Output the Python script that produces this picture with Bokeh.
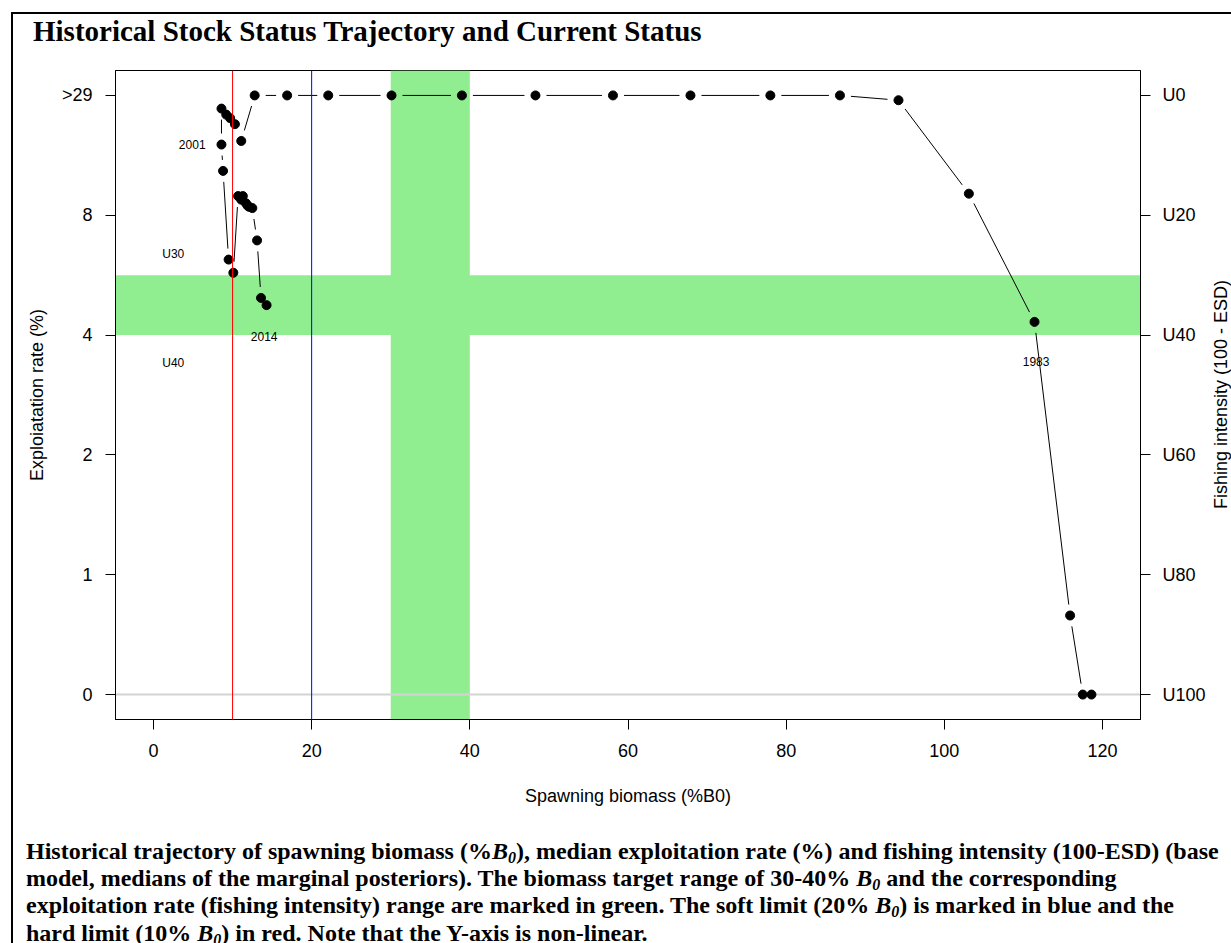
import math

from bokeh.embed import file_html
from bokeh.layouts import column, row
from bokeh.models import (BoxAnnotation, ColumnDataSource, Div, FixedTicker, Label,
                          LinearAxis, Range1d, Spacer, Span)
from bokeh.plotting import figure
from bokeh.resources import INLINE

# ---- data ---------------------------------------------------------------
years = list(range(1980, 2015))
spawning_biomass = [118.6, 117.5, 115.9, 111.4, 103.1, 94.2, 86.8, 78.0, 67.9,
                    58.1, 48.3, 39.0, 30.1, 22.1, 16.9, 12.8, 11.1, 10.3, 9.7,
                    9.2, 8.6, 8.6, 8.8, 9.5, 10.1, 10.7, 11.1, 11.3, 11.7,
                    11.9, 12.1, 12.5, 13.1, 13.6, 14.3]
fishing_intensity = [100, 100, 86.8, 37.8, 16.4, 0.8, 0, 0, 0, 0,
                     0, 0, 0, 0, 0, 0, 7.6, 4.8, 3.8, 3.2,
                     2.2, 8.2, 12.6, 27.4, 29.6, 16.8, 17.4, 16.8, 18.0, 18.4,
                     18.6, 18.8, 24.2, 33.8, 35.0]

exploitation_tick_labels = ["0", "1", "2", "4", "8", ">29"]
intensity_tick_labels = ["U100", "U80", "U60", "U40", "U20", "U0"]
biomass_ticks = [0, 20, 40, 60, 80, 100, 120]

biomass_target = (30, 40)       # %B0
intensity_target = (30, 40)     # U30 - U40
soft_limit = 20                 # %B0
hard_limit = 10                 # %B0

labelled_years = {2001: "2001", 1983: "1983", 2014: "2014"}

TITLE = "Historical Stock Status Trajectory and Current Status"
RIGHT_AXIS_TITLE = "Fishing intensity (100 - ESD)"
B0 = ('<i>B<sub style="font-size:16px;vertical-align:-4px;'
      'line-height:0">0</sub></i>')
CAPTION_LINES = [
    "Historical trajectory of spawning biomass (%" + B0 + "), median exploitation "
    "rate (%) and fishing intensity (100-ESD) (base",
    "model, medians of the marginal posteriors). The biomass target range of "
    "30-40% " + B0 + " and the corresponding",
    "exploitation rate (fishing intensity) range are marked in green. The soft "
    "limit (20% " + B0 + ") is marked in blue and the",
    "hard limit (10% " + B0 + ") in red. Note that the Y-axis is non-linear.",
]


def ypos(u):
    """Vertical position on the non-linear scale (U100 at 0, U0 at 5)."""
    return (100.0 - u) / 20.0


# ---- figure geometry -----------------------------------------------------
PW, PH = 1196, 776
LEFT, RIGHT, TOP, BOTTOM = 102, 69, 10, 117
X0, X1 = -4.8, 124.8
Y0, Y1 = -0.208, 5.208

p = figure(width=PW, height=PH, output_backend="svg", toolbar_location=None,
           x_range=Range1d(X0, X1), y_range=Range1d(Y0, Y1),
           min_border_left=LEFT, min_border_right=RIGHT,
           min_border_top=TOP, min_border_bottom=BOTTOM, margin=0)
p.grid.visible = False
p.outline_line_color = "black"
p.outline_line_width = 1
p.background_fill_color = "white"
p.border_fill_color = "white"

AX_FONT = "Liberation Sans"
AX_SIZE = "18px"

xa = p.xaxis[0]
xa.ticker = FixedTicker(ticks=biomass_ticks)
xa.axis_label = "Spawning biomass (%B0)"

ya = p.yaxis[0]
ya.ticker = FixedTicker(ticks=list(range(6)))
ya.major_label_overrides = {i: t for i, t in enumerate(exploitation_tick_labels)}
ya.axis_label = "Exploiatation rate (%)"

ra = LinearAxis(ticker=FixedTicker(ticks=list(range(6))),
                major_label_overrides={i: t for i, t in enumerate(intensity_tick_labels)})
p.add_layout(ra, "right")

for ax in (xa, ya, ra):
    ax.axis_line_color = "black"
    ax.major_tick_line_color = "black"
    ax.major_tick_in = 0
    ax.major_tick_out = 10
    ax.minor_tick_line_color = None
    ax.major_label_text_font = AX_FONT
    ax.major_label_text_font_size = AX_SIZE
    ax.major_label_text_color = "black"
    ax.axis_label_text_font = AX_FONT
    ax.axis_label_text_font_size = AX_SIZE
    ax.axis_label_text_font_style = "normal"
    ax.axis_label_text_color = "black"
xa.major_label_standoff = 14
xa.axis_label_standoff = 26
ya.major_label_standoff = 13
ya.axis_label_standoff = 12
ra.major_label_standoff = 12

# ---- reference regions ---------------------------------------------------
green = "#90EE90"
p.add_layout(BoxAnnotation(left=biomass_target[0], right=biomass_target[1],
                           fill_color=green, fill_alpha=1.0, line_alpha=0,
                           level="underlay"))
p.add_layout(BoxAnnotation(bottom=ypos(intensity_target[1]), top=ypos(intensity_target[0]),
                           fill_color=green, fill_alpha=1.0, line_alpha=0,
                           level="underlay"))
p.add_layout(Span(location=0, dimension="width", line_color="#d3d3d3",
                  line_width=2, level="underlay"))
p.add_layout(Span(location=hard_limit, dimension="height", line_color="red",
                  line_width=1))
p.add_layout(Span(location=soft_limit, dimension="height", line_color="blue",
                  line_width=1))

# ---- trajectory: points joined by lines with gaps around each point -------
ys = [ypos(u) for u in fishing_intensity]
fw, fh = PW - LEFT - RIGHT, PH - TOP - BOTTOM
kx, ky = fw / (X1 - X0), fh / (Y1 - Y0)
GAP = 11.0
seg = dict(x0=[], y0=[], x1=[], y1=[])
for (xa_, ya_), (xb, yb) in zip(zip(spawning_biomass, ys),
                                zip(spawning_biomass[1:], ys[1:])):
    d = math.hypot((xb - xa_) * kx, (yb - ya_) * ky)
    if d <= 2 * GAP:
        continue
    t = GAP / d
    seg["x0"].append(xa_ + (xb - xa_) * t)
    seg["y0"].append(ya_ + (yb - ya_) * t)
    seg["x1"].append(xb - (xb - xa_) * t)
    seg["y1"].append(yb - (yb - ya_) * t)
p.segment(x0="x0", y0="y0", x1="x1", y1="y1", source=ColumnDataSource(seg),
          line_color="black", line_width=1)
p.scatter(x=spawning_biomass, y=ys, marker="circle", size=9,
          fill_color="black", line_color="black")

# ---- in-plot annotations ----------------------------------------------------
small = dict(text_font=AX_FONT, text_font_size="12px", text_color="black",
             text_align="center", text_baseline="middle")
idx = {y: i for i, y in enumerate(years)}
offsets = {2001: (-3.7, 0.0), 1983: (0.2, -0.33), 2014: (-0.3, -0.26)}
for yr, txt in labelled_years.items():
    dx, dy = offsets[yr]
    p.add_layout(Label(x=spawning_biomass[idx[yr]] + dx, y=ys[idx[yr]] + dy,
                       text=txt, **small))
p.add_layout(Label(x=2.5, y=ypos(intensity_target[0]) + 0.18, text="U30", **small))
p.add_layout(Label(x=2.5, y=ypos(intensity_target[1]) - 0.23, text="U40", **small))

# ---- page: framed panel with heading, chart and caption --------------------
SERIF = "'Liberation Serif', 'Times New Roman', serif"
RW = 22  # strip on the right holding the vertical axis title

title_div = Div(
    text=('<div style="padding:3px 0 0 20px;font-family:%s;font-weight:bold;'
          'font-size:29px;line-height:29px;color:black;white-space:nowrap">%s</div>'
          % (SERIF, TITLE)),
    width=PW + RW, height=46, margin=0)

# right-hand axis title, reading bottom to top, centred on the plot frame
mid = TOP + fh / 2.0
right_title_div = Div(
    text=('<div style="margin-left:2px;width:20px;height:%dpx;display:flex;'
          'align-items:center;justify-content:center"><span style="'
          'writing-mode:vertical-rl;transform:rotate(180deg);'
          'font-family:\'Liberation Sans\';font-size:18px;line-height:20px;'
          'color:black;white-space:nowrap">%s</span></div>'
          % (round(2 * mid), RIGHT_AXIS_TITLE)),
    width=RW, height=PH, margin=0)

caption_div = Div(
    text=('<div style="padding:2px 0 0 13px;font-family:%s;font-weight:bold;'
          'font-size:24px;line-height:27.2px;color:black;white-space:nowrap">%s</div>'
          % (SERIF, "<br>".join(CAPTION_LINES))),
    width=PW + RW, height=107, margin=0)


def rule(w, h):
    return Div(text="", width=w, height=h, margin=0,
               styles={"background-color": "black"})


body = column(title_div, row(p, right_title_div, spacing=0, margin=0), caption_div,
              spacing=0, margin=0)
page = column(
    Spacer(width=1231, height=12, margin=0),
    row(Spacer(width=11, height=2, margin=0), rule(1220, 2), spacing=0, margin=0),
    row(Spacer(width=11, height=929, margin=0), rule(2, 929), body,
        spacing=0, margin=0),
    spacing=0, margin=0)

open("out.html", "w").write(file_html(page, INLINE))
